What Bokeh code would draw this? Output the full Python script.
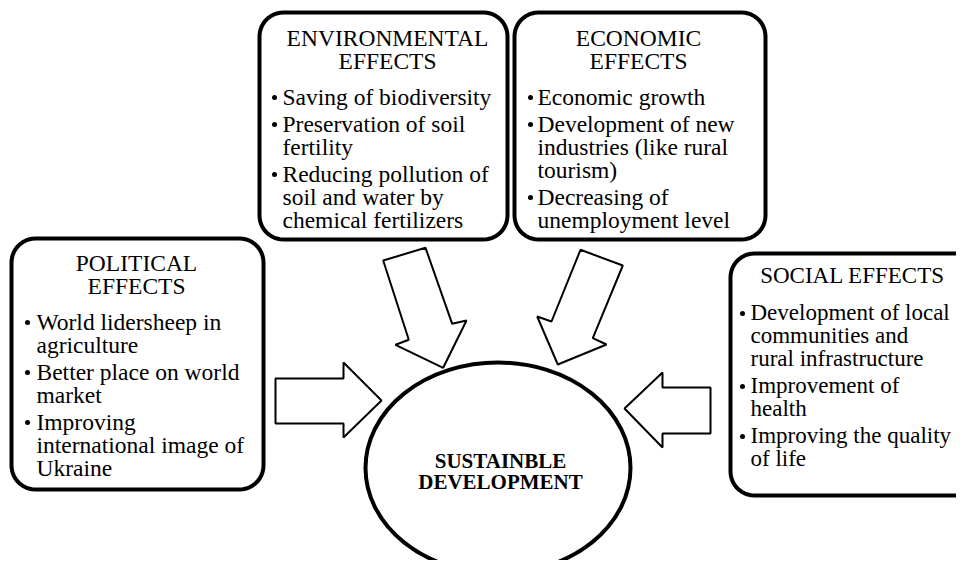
import numpy as np
from bokeh.plotting import figure
from bokeh.models import Range1d
from bokeh.core.properties import value
from bokeh.embed import file_html
from bokeh.resources import INLINE

# ---------------- data (texts) ----------------
political_title = ["POLITICAL", "EFFECTS"]
political_items = [
    ["World lidersheep in", "agriculture"],
    ["Better place on world", "market"],
    ["Improving", "international image of", "Ukraine"],
]
environmental_title = ["ENVIRONMENTAL", "EFFECTS"]
environmental_items = [
    ["Saving of biodiversity"],
    ["Preservation of soil", "fertility"],
    ["Reducing pollution of", "soil and water by", "chemical fertilizers"],
]
economic_title = ["ECONOMIC", "EFFECTS"]
economic_items = [
    ["Economic growth"],
    ["Development of new", "industries (like rural", "tourism)"],
    ["Decreasing of", "unemployment level"],
]
social_title = ["SOCIAL EFFECTS"]
social_items = [
    ["Development of local", "communities and", "rural infrastructure"],
    ["Improvement of", "health"],
    ["Improving the quality", "of life"],
]
center_title = ["SUSTAINBLE", "DEVELOPMENT"]

# ---------------- layout (pixel coordinates, y downward) ----------------
W, H = 956, 560
FONT = value("'Liberation Serif', 'Times New Roman', serif")
STEP = 23
GAP = 4

boxes = {
    "political": dict(rect=(11, 238, 263, 489), tx=136, ty=[262, 285], bx=27, lx=36, y0=321,
                      fs="23.5px", title=political_title, items=political_items),
    "environmental": dict(rect=(259, 12, 507, 239), tx=387, ty=[37, 60], bx=274, lx=282, y0=96,
                          fs="23.5px", title=environmental_title, items=environmental_items),
    "economic": dict(rect=(514, 12, 765, 239), tx=638, ty=[37, 60], bx=530, lx=537, y0=96,
                     fs="23.5px", title=economic_title, items=economic_items),
    "social": dict(rect=(730, 253, 990, 495), tx=852, ty=[275], bx=742, lx=750, y0=312,
                   fs="23px", title=social_title, items=social_items),
}

p = figure(width=W, height=H, output_backend="svg", toolbar_location=None,
           x_range=Range1d(0, W), y_range=Range1d(H, 0),
           min_border=0, background_fill_color="white", border_fill_color="white")
p.axis.visible = False
p.grid.visible = False
p.outline_line_color = None


def rounded(x0, y0, x1, y1, r=24, n=12):
    xs, ys = [], []
    corners = [(x1 - r, y0 + r, -np.pi / 2, 0), (x1 - r, y1 - r, 0, np.pi / 2),
               (x0 + r, y1 - r, np.pi / 2, np.pi), (x0 + r, y0 + r, np.pi, 1.5 * np.pi)]
    for cx, cy, a0, a1 in corners:
        t = np.linspace(a0, a1, n)
        xs.extend(cx + r * np.cos(t))
        ys.extend(cy + r * np.sin(t))
    return xs, ys


for key, b in boxes.items():
    xs, ys = rounded(*b["rect"])
    p.patch(xs, ys, fill_color="white", line_color="black", line_width=4)
    p.text(x=[b["tx"]] * len(b["title"]), y=b["ty"], text=b["title"], text_font=FONT,
           text_font_size=b["fs"], text_align="center", text_baseline="middle",
           text_color="black")
    y = b["y0"]
    lx, ly, lt, bxs, bys = [], [], [], [], []
    for item in b["items"]:
        bxs.append(b["bx"])
        bys.append(y + 1)
        for line in item:
            lx.append(b["lx"])
            ly.append(y)
            lt.append(line)
            y += STEP
        y += GAP
    p.text(x=lx, y=ly, text=lt, text_font=FONT, text_font_size=b["fs"], text_align="left",
           text_baseline="middle", text_color="black")
    p.scatter(x=bxs, y=bys, marker="circle", size=5, fill_color="black", line_color=None)

# block arrows
arrows = [
    ([275, 343, 343, 381, 343, 343, 275], [378, 378, 362, 400, 437, 423, 423]),
    ([710, 662, 662, 624, 662, 662, 710], [387, 387, 372, 408, 447, 433, 433]),
    ([382.7, 425, 451.7, 466, 442.7, 395, 408.3], [260, 247.3, 323.3, 320, 367.3, 344.3, 339.3]),
    ([580, 622.3, 592.3, 606, 557.3, 536.7, 551], [249.3, 265, 337.7, 344, 364, 316, 321]),
]
p.patches([a[0] for a in arrows], [a[1] for a in arrows], fill_color="white",
          line_color="black", line_width=2)

# central ellipse
p.ellipse(x=[497.5], y=[467.5], width=[265], height=[211], fill_color="white",
          line_color="black", line_width=4)
p.text(x=[500, 500], y=[460, 481], text=center_title, text_font=FONT, text_font_size="21px",
       text_font_style="bold", text_align="center", text_baseline="middle", text_color="black")

open("out.html", "w").write(file_html(p, INLINE))
